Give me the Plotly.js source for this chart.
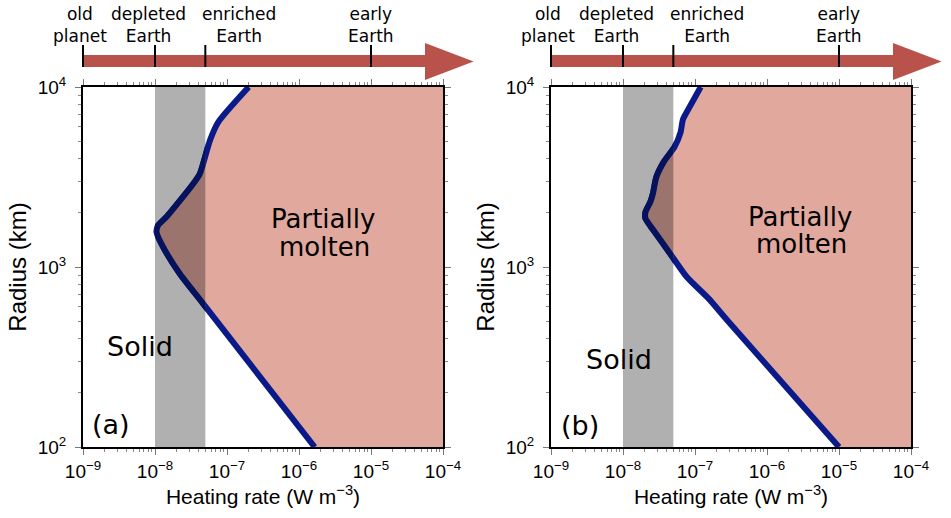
<!DOCTYPE html>
<html><head><meta charset="utf-8">
<script src="https://cdn.plot.ly/plotly-3.0.1.min.js"></script>
<style>html,body{margin:0;padding:0;background:#fff;} #chart{width:951px;height:518px;}</style>
</head><body><div id="chart"></div>
<script>
// ---- data ----
// panel (a): melting threshold curve
const heatA = [2.0e-7, 7.6e-8, 5.8e-8, 4.8e-8, 4.2e-8, 3.4e-8, 1.45e-8, 1.1e-8, 1.05e-8, 1.3e-8, 2.2e-8, 4.6e-8, 1.65e-6];
const radA  = [10000, 6400, 5050, 3900, 3300, 2900, 1900, 1700, 1560, 1290, 920, 630, 100];
// panel (b)
const heatB = [1.2e-7, 7.9e-8, 6.8e-8, 6.3e-8, 5.2e-8, 3.7e-8, 2.9e-8, 2.6e-8, 2.4e-8, 2.05e-8, 2.05e-8, 2.65e-8, 4.5e-8, 7.7e-8, 1.55e-7, 2.8e-7, 1.0e-5];
const radB  = [10000, 7400, 6600, 5600, 4650, 3850, 3150, 2550, 2300, 2020, 1860, 1600, 1190, 880, 667, 506, 100];
// present-day Earth range band
const bandRange = [1e-8, 5e-8];
// axes
const xRange = [1e-9, 1e-4];
const yRange = [100, 10000];
const xTickVals = [1e-9, 1e-8, 1e-7, 1e-6, 1e-5, 1e-4];
const xTickText = ['10<sup>−9</sup>', '10<sup>−8</sup>', '10<sup>−7</sup>', '10<sup>−6</sup>', '10<sup>−5</sup>', '10<sup>−4</sup>'];
const yTickVals = [100, 1000, 10000];
const yTickText = ['10<sup>2</sup>', '10<sup>3</sup>', '10<sup>4</sup>'];
const minorDigits = [2, 3, 4, 5, 6, 7, 8, 9];
// heating-rate scale above each panel
const scaleTicks = [1e-9, 1e-8, 5e-8, 1e-5];
const scaleLabels = ['old<br>planet', 'depleted<br>Earth', 'enriched<br>Earth', 'early<br>Earth'];
const scaleShift = [-3, -7, 34, 0];
const panelTags = ['(a)', '(b)'];

// ---- styling ----
const NAVY = '#0a1a88', PINK = '#e1a89e', GRAY = '#b0b0b0', ARROW = '#b8524a';
// colours seen where the gray band overlays (multiplied)
const NAVY_IN = '#07125d', PINK_IN = '#9b746d';
const SANS = 'Liberation Sans, Arial, sans-serif';
const DJV = 'DejaVu Sans, sans-serif';
const doms = [[0, 360/828], [468/828, 1]];
const L10 = Math.log10;
const fx = (dom, f) => dom[0] + f * (dom[1] - dom[0]);
const fracOf = v => (L10(v) - L10(xRange[0])) / (L10(xRange[1]) - L10(xRange[0]));

function minorVals(lo, hi) {
  const out = [];
  for (let e = Math.round(L10(lo)); e < Math.round(L10(hi)); e++) minorDigits.forEach(d => out.push(d * Math.pow(10, e)));
  return out;
}
const minorX = minorVals(xRange[0], xRange[1]);
const minorY = minorVals(yRange[0], yRange[1]);

function xAxis(dom, anchor) {
  return {
    type: 'log', range: [L10(xRange[0]), L10(xRange[1])], domain: dom, anchor: anchor,
    showline: true, linewidth: 2, linecolor: '#000', mirror: 'ticks',
    ticks: 'outside', ticklen: 6, tickwidth: 1, tickcolor: '#777',
    tickmode: 'array', tickvals: xTickVals, ticktext: xTickText,
    tickfont: {family: SANS, size: 19, color: '#000'},
    minor: {ticks: 'outside', ticklen: 3, tickwidth: 1, tickcolor: '#888', tickmode: 'array', tickvals: minorX},
    showgrid: false, zeroline: false, fixedrange: true,
    title: {text: 'Heating rate (W m<sup>−3</sup>)', font: {family: SANS, size: 21, color: '#000'}, standoff: 2}
  };
}
function yAxis(anchor) {
  return {
    type: 'log', range: [L10(yRange[0]), L10(yRange[1])], domain: [0, 1], anchor: anchor,
    showline: true, linewidth: 2, linecolor: '#000', mirror: 'ticks',
    ticks: 'outside', ticklen: 6, tickwidth: 1, tickcolor: '#777',
    tickmode: 'array', tickvals: yTickVals, ticktext: yTickText,
    tickfont: {family: SANS, size: 19, color: '#000'}, ticklabelstandoff: 5,
    minor: {ticks: 'outside', ticklen: 3, tickwidth: 1, tickcolor: '#888', tickmode: 'array', tickvals: minorY},
    showgrid: false, zeroline: false, fixedrange: true,
    title: {text: 'Radius (km)', font: {family: SANS, size: 24, color: '#000'}, standoff: 4}
  };
}
// hidden window axis covering only the band, so the curve seen through the band is drawn darker
function bandAxis(dom, anchor) {
  return {
    type: 'log', range: [L10(bandRange[0]), L10(bandRange[1])],
    domain: [fx(dom, fracOf(bandRange[0])), fx(dom, fracOf(bandRange[1]))],
    anchor: anchor, visible: false, fixedrange: true, showgrid: false, zeroline: false
  };
}

const curves = [[heatA, radA], [heatB, radB]];
const data = [];
const sets = [
  {xa: 'x', ya: 'y', fill: PINK, line: NAVY, c: 0},
  {xa: 'x2', ya: 'y2', fill: PINK, line: NAVY, c: 1},
  {xa: 'x3', ya: 'y', fill: PINK_IN, line: NAVY_IN, c: 0},
  {xa: 'x4', ya: 'y2', fill: PINK_IN, line: NAVY_IN, c: 1}
];
sets.forEach(s => {
  const c = curves[s.c];
  data.push({x: [xRange[1], xRange[1]], y: [yRange[1], yRange[0]], xaxis: s.xa, yaxis: s.ya,
    mode: 'lines', line: {width: 0, color: 'rgba(0,0,0,0)'}, hoverinfo: 'skip', showlegend: false});
  data.push({x: c[0], y: c[1], xaxis: s.xa, yaxis: s.ya, mode: 'lines',
    line: {color: s.line, width: 6, shape: 'spline', smoothing: 0.6},
    fill: 'tonextx', fillcolor: s.fill, hoverinfo: 'skip', showlegend: false});
});

// paper y from pixel y (plot area spans 87..447 px)
const py = p => (447 - p) / 360;

const shapes = [];
['x', 'x2'].forEach((xa, i) => {
  shapes.push({type: 'rect', xref: xa, yref: (i === 0 ? 'y' : 'y2') + ' domain',
    x0: bandRange[0], x1: bandRange[1], y0: 0, y1: 1,
    fillcolor: GRAY, line: {width: 0}, layer: 'below'});
});
const annotations = [];
doms.forEach((dom, i) => {
  const x0 = fx(dom, 0), xs = fx(dom, 0.95), xt = fx(dom, 1.085);
  shapes.push({type: 'path', xref: 'paper', yref: 'paper', fillcolor: ARROW, line: {width: 0}, layer: 'above',
    path: `M${x0},${py(55)} L${xs},${py(55)} L${xs},${py(43)} L${xt},${py(61.5)} L${xs},${py(80)} L${xs},${py(67)} L${x0},${py(67)} Z`});
  scaleTicks.forEach((v, k) => {
    const xp = fx(dom, fracOf(v));
    shapes.push({type: 'line', xref: 'paper', yref: 'paper', x0: xp, x1: xp, y0: py(67), y1: py(45),
      line: {color: '#000', width: 2}, layer: 'above'});
    annotations.push({xref: 'paper', yref: 'paper', x: xp, y: py(25.5), xshift: scaleShift[k],
      text: scaleLabels[k], showarrow: false, xanchor: 'center', yanchor: 'middle', align: 'center',
      font: {family: DJV, size: 17, color: '#000'}});
  });
});

// region labels
const xd = ['x domain', 'x2 domain'], yd = ['y domain', 'y2 domain'];
const labelPos = [
  {p1: [0.667, 0.632], p2: [0.671, 0.556], solid: [0.157, 0.278], tag: [0.078, 0.063]},
  {p1: [0.691, 0.639], p2: [0.697, 0.565], solid: [0.190, 0.244], tag: [0.081, 0.061]}
];
labelPos.forEach((lp, i) => {
  const base = {xref: xd[i], yref: yd[i], showarrow: false, xanchor: 'center', yanchor: 'middle'};
  annotations.push(Object.assign({}, base, {x: lp.p1[0], y: lp.p1[1], text: 'Partially', font: {family: DJV, size: 26, color: '#000'}}));
  annotations.push(Object.assign({}, base, {x: lp.p2[0], y: lp.p2[1], text: 'molten', font: {family: DJV, size: 26, color: '#000'}}));
  annotations.push(Object.assign({}, base, {x: lp.solid[0], y: lp.solid[1], text: 'Solid', font: {family: DJV, size: 27, color: '#000'}}));
  annotations.push(Object.assign({}, base, {x: lp.tag[0], y: lp.tag[1], text: panelTags[i], font: {family: DJV, size: 27, color: '#000'}}));
});

const layout = {
  width: 951, height: 518,
  margin: {l: 83, r: 40, t: 87, b: 71},
  paper_bgcolor: '#fff', plot_bgcolor: 'rgba(0,0,0,0)',
  showlegend: false,
  xaxis: xAxis(doms[0], 'y'), yaxis: yAxis('x'),
  xaxis2: xAxis(doms[1], 'y2'), yaxis2: yAxis('x2'),
  xaxis3: bandAxis(doms[0], 'y'), xaxis4: bandAxis(doms[1], 'y2'),
  shapes: shapes, annotations: annotations
};

Plotly.newPlot('chart', data, layout, {staticPlot: true, displayModeBar: false});
</script>
</body></html>
